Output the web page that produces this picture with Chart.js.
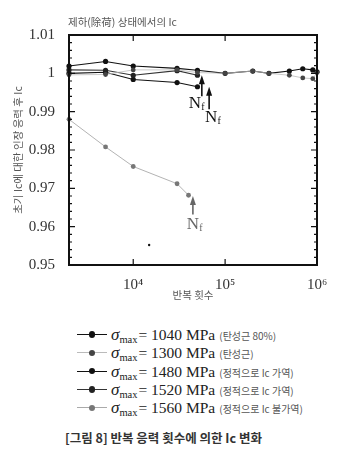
<!DOCTYPE html>
<html>
<head>
<meta charset="utf-8">
<script src="https://cdn.jsdelivr.net/npm/chart.js@4.4.0/dist/chart.umd.min.js"></script>
<style>
  body { margin: 0; background: #fff; width: 344px; height: 455px; position: relative; overflow: hidden; }
  #wrap { position: absolute; left: 0; top: 0; width: 344px; height: 305px; }
  #title { position: absolute; left: 68px; top: 14px; font: 10.5px "Noto Sans CJK KR"; color: #555; white-space: nowrap; }
  .row { position: absolute; left: 0; width: 344px; height: 18px; }
  .sw { position: absolute; left: 77px; width: 30px; top: 9px; height: 0; }
  .dot { position: absolute; border-radius: 50%; }
  .txt { position: absolute; left: 111px; top: 0; height: 18px; line-height: 18px; white-space: nowrap; color: #222; }
  .sig { font: italic 17px "Liberation Serif"; }
  .sub { font: 10.5px "Liberation Serif"; position: relative; top: 3px; margin-right: 1px; }
  .eq { font: 15.5px "Liberation Serif"; }
  .note { font: 10px "Noto Sans CJK KR"; color: #555; margin-left: 4px; }
  #caption { position: absolute; left: 65px; top: 428px; font: bold 12.5px "Noto Sans CJK KR"; color: #333; white-space: nowrap; }
</style>
</head>
<body>
<div id="wrap"><canvas id="c"></canvas></div>
<div id="title">제하(除荷) 상태에서의 Ic</div>
<div id="legend"></div>
<div id="caption">[그림 8] 반복 응력 횟수에 의한 Ic 변화</div>
<script>
// cycles (x) and Ic ratio (y) per stress level
const cyclesFull = [2000, 5000, 10000, 30000, 50000, 100000, 200000, 300000, 500000, 700000, 900000, 1000000];
const cyclesFailed = [2000, 5000, 10000, 30000, 50000];
const cycles1560 = [2000, 5000, 10000, 30000, 40000];

const ic1040 = [1.0019, 1.0031, 1.0019, 1.0013, 1.0008, 1.0000, 1.0006, 1.0000, 1.0006, 1.0012, 1.0009, 1.0004];
const ic1300 = [0.9996, 0.9997, 1.0009, 1.0009, 1.0002, 1.0000, 1.0006, 1.0000, 0.9995, 0.9988, 0.9986, 1.0002];
const ic1480 = [1.0000, 1.0003, 0.9984, 0.9976, 0.9965];
const ic1520 = [1.0009, 1.0008, 0.9995, 1.0007, 0.9995];
const ic1560 = [0.9880, 0.9808, 0.9757, 0.9712, 0.9682];

const strayCycles = [14900];
const strayIc = [0.9552];

// failure arrows (N_f)
const nfCycles = [55800, 67000, 44600];
const nfTip = [0.9995, 0.9965, 0.9680];
const nfTail = [0.9940, 0.9906, 0.9632];

const stressLabels = ['1040', '1300', '1480', '1520', '1560'];
const stressNotes = ['(탄성근 80%)', '(탄성근)', '(정적으로 Ic 가역)', '(정적으로 Ic 가역)', '(정적으로 Ic 불가역)'];

const yTicks = [0.95, 0.96, 0.97, 0.98, 0.99, 1.00, 1.01];
const xMin = 2000, xMax = 1000000;

const pts = (xs, ys) => xs.map((v, i) => ({ x: v, y: ys[i] }));
const sup = { 4: '⁴', 5: '⁵', 6: '⁶' };

const lineStyles = [
  { line: '#111', point: '#111', w: 1.1, r: 2.6 },
  { line: '#bbb', point: '#444', w: 0.8, r: 2.4 },
  { line: '#111', point: '#111', w: 1.1, r: 2.6 },
  { line: '#333', point: '#222', w: 1.1, r: 2.6 },
  { line: '#aaa', point: '#777', w: 0.9, r: 2.4 }
];

function ds(data, st) {
  return {
    data: data,
    borderColor: st.line,
    borderWidth: st.w,
    pointRadius: st.r,
    pointBackgroundColor: st.point,
    pointBorderColor: st.point,
    pointBorderWidth: 0,
    tension: 0,
    clip: false
  };
}

const marks = {
  id: 'marks',
  afterDatasetsDraw(chart) {
    const { ctx, chartArea: a, scales: { x, y } } = chart;
    ctx.save();
    ctx.strokeStyle = '#111';
    ctx.lineWidth = 1.2;
    ctx.beginPath();
    x.ticks.forEach(t => {
      const px = x.getPixelForValue(t.value);
      if (px < a.left + 1 || px > a.right - 1) return;
      const lg = Math.log10(t.value);
      const len = Math.abs(lg - Math.round(lg)) < 1e-6 ? 6 : 3;
      ctx.moveTo(px, a.bottom); ctx.lineTo(px, a.bottom - len);
      ctx.moveTo(px, a.top); ctx.lineTo(px, a.top + len);
    });
    for (let i = 1; i < 30; i++) {
      const py = y.getPixelForValue(yTicks[0] + i * 0.002);
      const len = i % 5 === 0 ? 6 : 3;
      ctx.moveTo(a.left, py); ctx.lineTo(a.left + len, py);
      ctx.moveTo(a.right, py); ctx.lineTo(a.right - len, py);
    }
    ctx.stroke();

    ctx.lineWidth = 2;
    ctx.strokeRect(a.left, a.top, a.right - a.left, a.bottom - a.top);

    const colors = ['#111', '#111', '#666'];
    const lab = [[-5, 7], [4, 8], [2, 10]];
    nfCycles.forEach((c, i) => {
      const px = x.getPixelForValue(c);
      const tip = y.getPixelForValue(nfTip[i]);
      const tail = y.getPixelForValue(nfTail[i]);
      ctx.strokeStyle = colors[i];
      ctx.fillStyle = colors[i];
      ctx.lineWidth = 1.6;
      ctx.beginPath();
      ctx.moveTo(px, tip + 6); ctx.lineTo(px, tail);
      ctx.stroke();
      ctx.beginPath();
      ctx.moveTo(px, tip); ctx.lineTo(px - 3, tip + 9); ctx.lineTo(px + 3, tip + 9); ctx.closePath();
      ctx.fill();
      const cx = px + lab[i][0], cy = tail + lab[i][1];
      ctx.textBaseline = 'middle';
      ctx.textAlign = 'center';
      ctx.font = '17px "Liberation Serif"';
      ctx.fillText('N', cx - 2, cy);
      ctx.font = '10px "Liberation Serif"';
      ctx.fillText('f', cx + 6, cy + 4);
    });
    ctx.restore();
  }
};

new Chart(document.getElementById('c'), {
  type: 'line',
  data: {
    datasets: [
      ds(pts(cycles1560, ic1560), lineStyles[4]),
      ds(pts(cyclesFull, ic1300), lineStyles[1]),
      ds(pts(cyclesFailed, ic1520), lineStyles[3]),
      ds(pts(cyclesFailed, ic1480), lineStyles[2]),
      ds(pts(cyclesFull, ic1040), lineStyles[0]),
      { data: pts(strayCycles, strayIc), showLine: false, pointRadius: 1.2, pointBackgroundColor: '#111', pointBorderWidth: 0 }
    ]
  },
  options: {
    responsive: true,
    maintainAspectRatio: false,
    animation: false,
    layout: { padding: { top: 35, right: 27, left: 0, bottom: 0 } },
    plugins: { legend: { display: false }, tooltip: { enabled: false } },
    scales: {
      x: {
        type: 'logarithmic',
        min: xMin,
        max: xMax,
        grid: { display: false },
        border: { display: false },
        afterFit: s => { s.height = 40; },
        ticks: {
          autoSkip: false,
          maxRotation: 0,
          padding: 3,
          color: '#333',
          font: { family: 'Liberation Serif', size: 15 },
          callback: v => {
            const lg = Math.log10(v);
            return Math.abs(lg - Math.round(lg)) < 1e-6 && lg >= 4 ? '10' + sup[Math.round(lg)] : null;
          }
        },
        title: {
          display: true,
          text: '반복 횟수',
          color: '#555',
          font: { family: 'Noto Sans CJK KR', size: 10.5 },
          padding: { top: 0, bottom: 4 }
        }
      },
      y: {
        min: yTicks[0],
        max: yTicks[yTicks.length - 1],
        grid: { display: false },
        border: { display: false },
        afterFit: s => { s.width = 69; },
        afterBuildTicks: s => { s.ticks = yTicks.map(v => ({ value: v })); },
        ticks: {
          padding: 6,
          color: '#333',
          font: { family: 'Liberation Serif', size: 15 },
          callback: v => String(parseFloat(Number(v).toFixed(2)))
        },
        title: {
          display: true,
          text: '초기 Ic에 대한 인장 응력 후 Ic',
          color: '#555',
          font: { family: 'Noto Sans CJK KR', size: 10.5 },
          padding: { top: 12, bottom: 0 }
        }
      }
    }
  },
  plugins: [marks]
});

// legend rows
const legend = document.getElementById('legend');
stressLabels.forEach((s, i) => {
  const st = lineStyles[i];
  const row = document.createElement('div');
  row.className = 'row';
  row.style.top = (325 + i * 18.3) + 'px';
  const r = st.r + 0.6;
  row.innerHTML =
    '<div class="sw" style="border-top:' + (st.w + 0.6) + 'px solid ' + st.line + '"></div>' +
    '<div class="dot" style="left:' + (92 - r) + 'px;top:' + (9.5 - r) + 'px;width:' + 2 * r + 'px;height:' + 2 * r + 'px;background:' + st.point + '"></div>' +
    '<div class="txt"><span class="sig">σ</span><span class="sub">max</span><span class="eq">= ' + s + ' MPa</span><span class="note">' + stressNotes[i] + '</span></div>';
  legend.appendChild(row);
});
</script>
</body>
</html>
